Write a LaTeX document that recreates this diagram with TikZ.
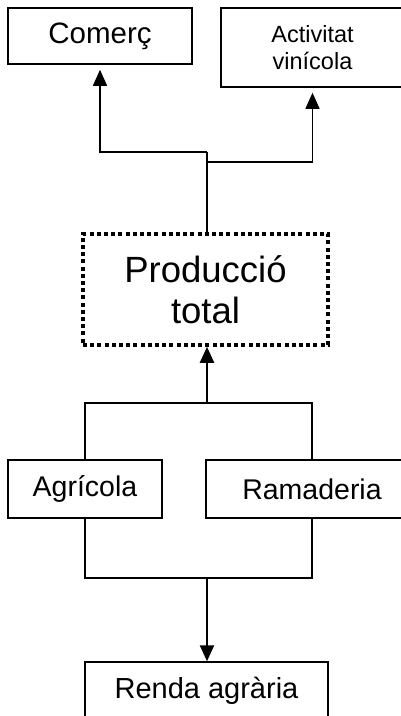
\documentclass[tikz,border=0pt]{standalone}
\usepackage{fontspec}
\setmainfont{Liberation Sans}
\usetikzlibrary{arrows.meta}
\begin{document}
\begin{tikzpicture}[x=1pt,y=-1pt,
  box/.style={draw,line width=1.5pt,inner sep=0pt,align=center},
  dotbox/.style={draw,line width=3.5pt,dash pattern=on 4pt off 3.2pt,inner sep=0pt,align=center},
  conn/.style={line width=1.5pt},
  stem/.style={line width=2.3pt},
  tip/.style={-{Triangle[width=14pt,length=16pt]}}]
\useasboundingbox (0,0) rectangle (401,716);
\clip (0,0) rectangle (401,716);
\node[box,minimum width=184pt,minimum height=56pt,font=\fontsize{29.5}{32}\selectfont] (com) at (100,36) {Comerç};
\node[box,minimum width=183pt,minimum height=79pt,font=\fontsize{23.5}{27}\selectfont] (act) at (312.5,47.5) {Activitat\\vinícola};
\node[dotbox,minimum width=245pt,minimum height=111pt,font=\fontsize{36.5}{41}\selectfont] (prod) at (205.5,289.5) {Producció\\total};
\node[box,minimum width=154pt,minimum height=58pt,font=\fontsize{28.5}{32}\selectfont] (agr) at (85,489) {Agrícola};
\node[box,minimum width=212pt,minimum height=58pt,font=\fontsize{28.5}{32}\selectfont] (ram) at (312,489) {Ramaderia};
\node[box,minimum width=243pt,minimum height=58pt,font=\fontsize{29}{32}\selectfont] (renda) at (206.5,691) {Renda agrària};
\coordinate (j1) at (207,152);
\coordinate (j2) at (207,162);
\coordinate (j3) at (207,403);
\coordinate (j4) at (207,578);
\draw[stem] (prod.north -| j1) -- (j1);
\draw[conn,tip,shorten >=5pt] (j1) -| (com.south);
\draw[conn,tip,shorten >=5pt] (j2) -| (act.south);
\draw[stem,tip] (j3) -- (prod.south -| j3);
\draw[conn] (agr.north) |- (ram.north |- j3) -- (ram.north);
\draw[conn] (agr.south) |- (ram.south |- j4) -- (ram.south);
\draw[stem,tip] (j4) -- (renda.north -| j4);
\end{tikzpicture}
\end{document}
